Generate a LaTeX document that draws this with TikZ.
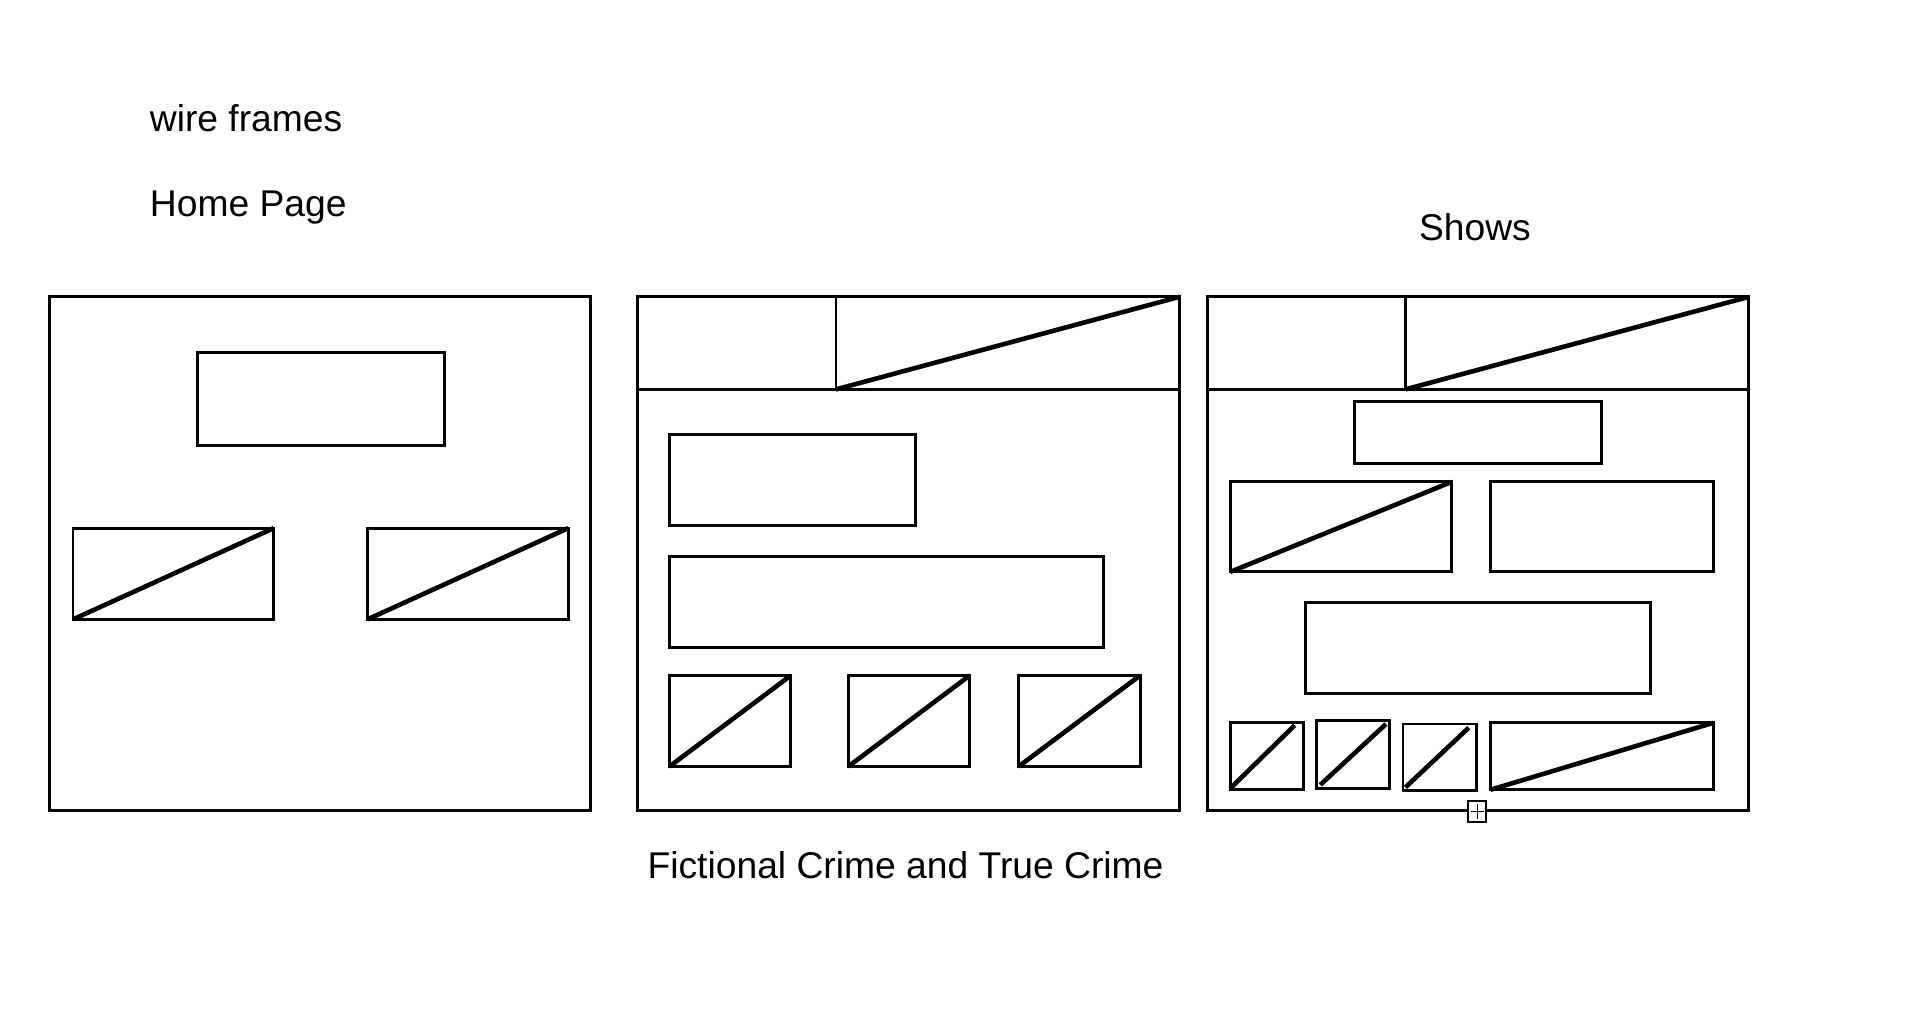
\documentclass[tikz,border=0pt]{standalone}
\usepackage{fontspec}
\setmainfont{Liberation Sans}
\usetikzlibrary{positioning}

\tikzset{
  panel/.style={draw, line width=2.5pt, inner sep=0pt, outer sep=0pt, anchor=north west},
  block/.style={draw, line width=2.4pt, inner sep=0pt, outer sep=0pt, anchor=north west},
  imgline/.style={line width=3.8pt},
  caption/.style={font=\fontsize{30.6}{36}\selectfont, inner sep=0pt, anchor=base west},
}

\begin{document}
\begin{tikzpicture}[x=1pt,y=-1pt]
  \useasboundingbox (0,0) rectangle (1568,833.3);
  % labels
  \node[caption] (title) at (123,108) {wire frames};
  \node[caption] (home) at (123,178) {Home Page};
  \node[caption] (shows) at (1166,198) {Shows};
  \node[caption] (crime) at (532,722) {Fictional Crime and True Crime};

  % home page
  \node[panel, minimum width=444pt, minimum height=422pt] (page1) at (41,244) {};
  \node[block, minimum width=203pt, minimum height=76pt] (hero1) at (162,290) {};
  \node[block, minimum width=165pt, minimum height=75pt] (imgA1) at (60,434) {};
  \node[block, minimum width=165pt, minimum height=75pt] (imgB1) at (302,434) {};
  \draw[imgline] (imgA1.south west) -- (imgA1.north east);
  \draw[imgline] (imgB1.south west) -- (imgB1.north east);

  % fictional crime and true crime
  \node[panel, minimum width=445pt, minimum height=422pt, right=39pt of page1] (page2) {};
  \node[block, minimum width=163pt, minimum height=76pt] (logo2) at (524,244) {};
  \node[block, minimum width=282pt, minimum height=76pt, right=0pt of logo2] (banner2) {};
  \node[block, minimum width=202pt, minimum height=75pt] (textA2) at (550,357) {};
  \node[block, minimum width=357pt, minimum height=75pt] (textB2) at (550,457) {};
  \node[block, minimum width=100pt, minimum height=75pt] (thumbA2) at (550,555) {};
  \node[block, minimum width=100pt, minimum height=75pt] (thumbB2) at (697,555) {};
  \node[block, minimum width=100pt, minimum height=75pt] (thumbC2) at (837,555) {};
  \draw[imgline] (banner2.south west) -- (banner2.north east);
  \draw[imgline] (thumbA2.south west) -- (thumbA2.north east);
  \draw[imgline] (thumbB2.south west) -- (thumbB2.north east);
  \draw[imgline] (thumbC2.south west) -- (thumbC2.north east);

  % shows
  \node[panel, minimum width=445pt, minimum height=422pt, right=23pt of page2] (page3) {};
  \node[block, minimum width=163pt, minimum height=76pt] (logo3) at (992,244) {};
  \node[block, minimum width=282pt, minimum height=76pt, right=0pt of logo3] (banner3) {};
  \node[block, minimum width=203pt, minimum height=51pt] (textA3) at (1113,330) {};
  \node[block, minimum width=182pt, minimum height=74pt] (imgA3) at (1011,396) {};
  \node[block, minimum width=183pt, minimum height=74pt] (textB3) at (1225,396) {};
  \node[block, minimum width=283pt, minimum height=75pt] (textC3) at (1073,495) {};
  \node[block, minimum width=60pt, minimum height=55pt] (sqA3) at (1011,594) {};
  \node[block, minimum width=60pt, minimum height=56pt] (sqB3) at (1082,592) {};
  \node[block, minimum width=60pt, minimum height=55pt] (sqC3) at (1153,595) {};
  \node[block, minimum width=183pt, minimum height=55pt] (imgB3) at (1225,594) {};
  \draw[imgline] (banner3.south west) -- (banner3.north east);
  \draw[imgline] (imgA3.south west) -- (imgA3.north east);
  \draw[imgline] (imgB3.south west) -- (imgB3.north east);
  \draw[imgline] ([yshift=1pt]sqA3.south west) -- ([xshift=-7pt,yshift=-2pt]sqA3.north east);
  \draw[imgline] ([xshift=3pt,yshift=3pt]sqB3.south west) -- ([xshift=-3pt,yshift=-3pt]sqB3.north east);
  \draw[imgline] ([xshift=2pt,yshift=3pt]sqC3.south west) -- ([xshift=-6pt,yshift=-3pt]sqC3.north east);

  % expand handle
  \node[draw, fill=white, line width=1.6pt, inner sep=0pt, minimum width=15pt, minimum height=17pt] (handle) at (1214,667) {};
  \draw[line width=1pt] ([yshift=-3pt]handle.north) -- ([yshift=3pt]handle.south);
  \draw[line width=1pt] ([xshift=3pt]handle.west) -- ([xshift=-3pt]handle.east);
\end{tikzpicture}
\end{document}
